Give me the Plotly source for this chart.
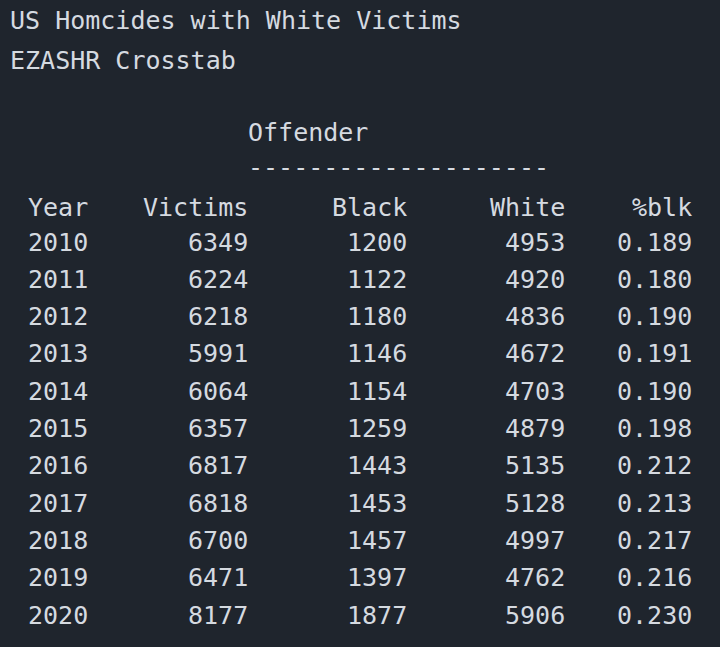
import plotly.graph_objects as go

years = [2010, 2011, 2012, 2013, 2014, 2015, 2016, 2017, 2018, 2019, 2020]
victims = [6349, 6224, 6218, 5991, 6064, 6357, 6817, 6818, 6700, 6471, 8177]
black = [1200, 1122, 1180, 1146, 1154, 1259, 1443, 1453, 1457, 1397, 1877]
white = [4953, 4920, 4836, 4672, 4703, 4879, 5135, 5128, 4997, 4762, 5906]
pct_blk = [0.189, 0.180, 0.190, 0.191, 0.190, 0.198, 0.212, 0.213, 0.217, 0.216, 0.230]
headers = ["Year", "Victims", "Black", "White", "%blk"]

FONT = dict(family="DejaVu Sans Mono", size=25, color="#d5dae0")
fig = go.Figure()
ann = []
def t(x, y, s, anchor="left"):
    ann.append(dict(x=x, y=y, text=s, showarrow=False, xanchor=anchor, yanchor="middle", font=FONT))

t(8, 20, "US Homcides with White Victims")
t(8, 60, "EZASHR Crosstab")
t(246, 132, "Offender")
t(246, 167, "-" * 20)
col_right = [None, 250, 409, 567, 694]
t(26, 207, headers[0])
for i in range(1, 5):
    t(col_right[i], 207, headers[i], "right")
for k, yr in enumerate(years):
    y = 242 + k * 37.3
    t(26, y, str(yr))
    t(250, y, str(victims[k]), "right")
    t(409, y, str(black[k]), "right")
    t(567, y, str(white[k]), "right")
    t(694, y, f"{pct_blk[k]:.3f}", "right")

fig.update_layout(
    width=720, height=647, margin=dict(l=0, r=0, t=0, b=0),
    paper_bgcolor="#1f252d", plot_bgcolor="#1f252d",
    xaxis=dict(range=[0, 720], visible=False, fixedrange=True),
    yaxis=dict(range=[647, 0], visible=False, fixedrange=True),
    annotations=ann, showlegend=False,
)
fig.write_html("out.html", config={"displayModeBar": False},
               post_script="document.body.style.margin='0';document.body.style.background='#1f252d';")
